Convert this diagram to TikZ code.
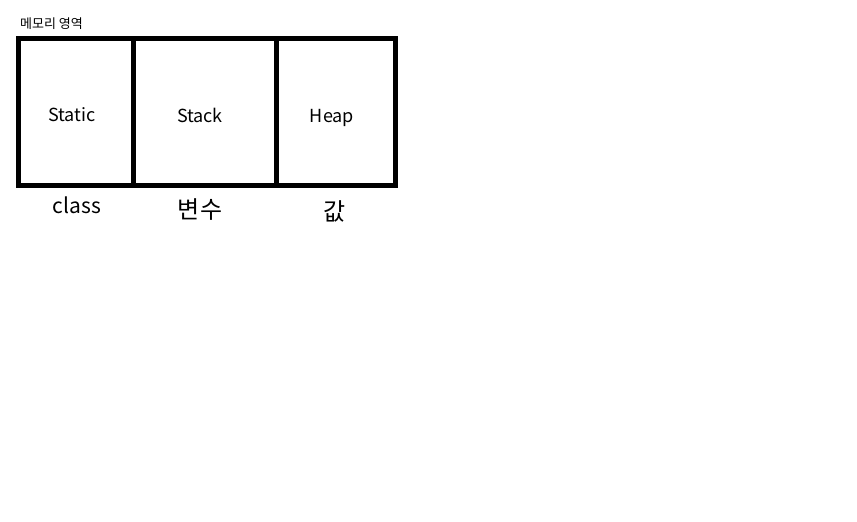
\documentclass[tikz,border=0pt]{standalone}
\usepackage{fontspec}
\setmainfont{Noto Sans CJK KR}
\usetikzlibrary{positioning}

\begin{document}
\begin{tikzpicture}[
    x=1pt, y=-1pt,
    area/.style={draw, line width=5pt, minimum height=147pt, inner sep=0pt},
    areatext/.style={inner sep=0pt, anchor=base, font=\fontsize{18}{21}\selectfont},
    caption/.style={inner sep=0pt, font=\fontsize{24}{28}\selectfont}
]
    \useasboundingbox (0,0) rectangle (857,522);
    \node[area, minimum width=115pt] (static) at (76,112) {};
    \node[area, minimum width=143pt, right=0pt of static.east, xshift=-5pt] (stack) {};
    \node[area, minimum width=119pt, right=0pt of stack.east, xshift=-5pt] (heap) {};

    \node[areatext] (statictxt) at (72,121) {Static};
    \node[areatext] (stacktxt) at (200,122) {Stack};
    \node[areatext] (heaptxt) at (332,122) {Heap};

    \node[inner sep=0pt, font=\fontsize{13}{15}\selectfont, anchor=west] (title) at (20,24) {메모리 영역};

    \node[inner sep=0pt, anchor=base, font=\fontsize{21}{25}\selectfont] (cls) at (77,213) {class};
    \node[caption] (var) at (200,210) {변수};
    \node[caption] (val) at (335,211) {값};
\end{tikzpicture}
\end{document}
